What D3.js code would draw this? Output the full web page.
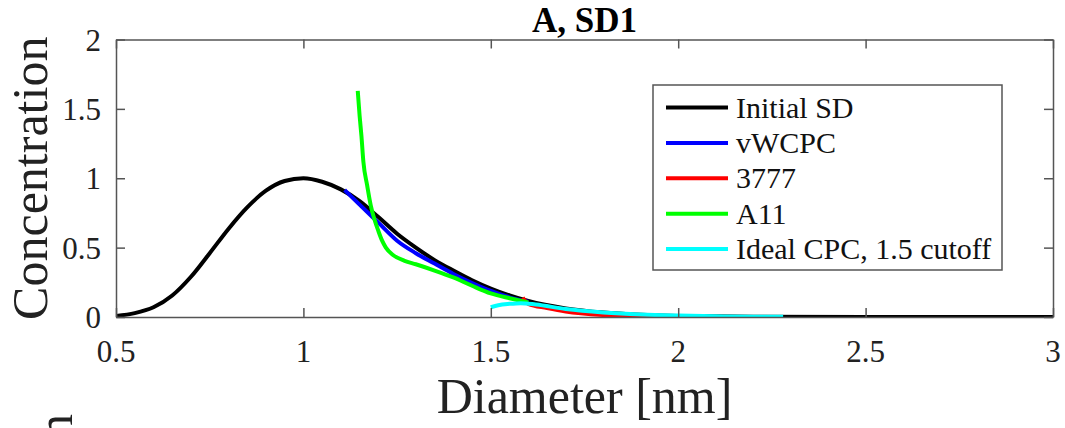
<!DOCTYPE html>
<html>
<head>
<meta charset="utf-8">
<script src="https://cdn.jsdelivr.net/npm/d3@7.9.0/dist/d3.min.js"></script>
<style>
  body { margin: 0; background: #fff; }
  svg text { font-family: "Liberation Serif", "Times New Roman", serif; fill: #222; }
</style>
</head>
<body>
<svg id="chart" width="1065" height="428"></svg>
<script>
// values
const initialD = [0.5, 0.55, 0.6, 0.65, 0.7, 0.75, 0.8, 0.85, 0.9, 0.95, 1.0, 1.05, 1.1, 1.15, 1.2, 1.25, 1.3, 1.35, 1.4, 1.45, 1.5, 1.55, 1.6, 1.7, 1.8, 1.9, 2.0, 2.2, 2.5, 3.0];
const initialC = [0.008, 0.028, 0.07, 0.155, 0.29, 0.46, 0.635, 0.79, 0.91, 0.98, 1.0, 0.975, 0.92, 0.835, 0.72, 0.6, 0.5, 0.41, 0.335, 0.265, 0.205, 0.155, 0.115, 0.062, 0.032, 0.016, 0.007, 0.002, 0, 0];

const vwcpcD = [1.11, 1.15, 1.2, 1.25, 1.3, 1.35, 1.4, 1.45, 1.5, 1.55, 1.6];
const vwcpcC = [0.915, 0.81, 0.68, 0.55, 0.46, 0.385, 0.31, 0.245, 0.188, 0.142, 0.11];

const d3777D = [1.585, 1.6, 1.65, 1.7, 1.8, 1.9, 2.0];
const d3777C = [0.14, 0.095, 0.065, 0.04, 0.014, 0.004, 0.0];

const a11D = [1.145, 1.15, 1.155, 1.16, 1.17, 1.18, 1.19, 1.2, 1.21, 1.22, 1.24, 1.27, 1.3, 1.35, 1.4, 1.45, 1.5, 1.55, 1.6];
const a11C = [1.63, 1.45, 1.3, 1.12, 0.95, 0.8, 0.7, 0.62, 0.55, 0.5, 0.445, 0.405, 0.38, 0.335, 0.285, 0.225, 0.17, 0.135, 0.105];

const idealD = [1.5, 1.52, 1.55, 1.58, 1.62, 1.7, 1.8, 1.9, 2.0, 2.1, 2.2, 2.28];
const idealC = [0.07, 0.085, 0.095, 0.1, 0.09, 0.058, 0.033, 0.018, 0.01, 0.005, 0.002, 0.001];

const seriesNames = ["Initial SD", "vWCPC", "3777", "A11", "Ideal CPC, 1.5 cutoff"];
const seriesColors = ["#000000", "#0000ff", "#ff0000", "#00ff00", "#00ffff"];

const xTicks = [0.5, 1, 1.5, 2, 2.5, 3];
const yTicks = [0, 0.5, 1, 1.5, 2];

const series = [
  [initialD, initialC],
  [vwcpcD, vwcpcC],
  [d3777D, d3777C],
  [a11D, a11C],
  [idealD, idealC],
].map(([xs, ys]) => xs.map((d, i) => ({ d: d, c: ys[i] })));

const plotLeft = 116, plotRight = 1053, plotTop = 39.5, plotBottom = 317;
const axisColor = "#555";
const lineW = 4;

const x = d3.scaleLinear().domain([0.5, 3]).range([plotLeft, plotRight]);
const y = d3.scaleLinear().domain([0, 2]).range([plotBottom, plotTop]);

const svg = d3.select("#chart");

svg.append("defs").append("clipPath").attr("id", "plotclip")
  .append("rect")
  .attr("x", plotLeft).attr("y", plotTop)
  .attr("width", plotRight - plotLeft).attr("height", plotBottom - plotTop);

// data lines, drawn in legend order so cyan ends up on top
const line = d3.line()
  .x((p) => x(p.d))
  .y((p) => y(p.c))
  .curve(d3.curveMonotoneX);

const plot = svg.append("g").attr("clip-path", "url(#plotclip)");
series.forEach((pts, i) => {
  plot.append("path")
    .attr("d", line(pts))
    .attr("fill", "none")
    .attr("stroke", seriesColors[i])
    .attr("stroke-width", lineW)
    .attr("stroke-linejoin", "round");
});

// box with inward ticks on all four sides
const tickLen = 9;
const xAxisB = d3.axisBottom(x).tickValues(xTicks).tickSizeInner(-tickLen).tickSizeOuter(0).tickFormat("");
const xAxisT = d3.axisTop(x).tickValues(xTicks).tickSizeInner(-tickLen).tickSizeOuter(0).tickFormat("");
const yAxisL = d3.axisLeft(y).tickValues(yTicks).tickSizeInner(-tickLen).tickSizeOuter(0).tickFormat("");
const yAxisR = d3.axisRight(y).tickValues(yTicks).tickSizeInner(-tickLen).tickSizeOuter(0).tickFormat("");

[
  [xAxisB, `translate(0,${plotBottom})`],
  [xAxisT, `translate(0,${plotTop})`],
  [yAxisL, `translate(${plotLeft},0)`],
  [yAxisR, `translate(${plotRight},0)`],
].forEach(([ax, tr]) => {
  const g = svg.append("g").attr("transform", tr).call(ax);
  g.selectAll("path, line").attr("stroke", axisColor).attr("stroke-width", 1.5);
});

// tick labels
svg.append("g").selectAll("text")
  .data(xTicks)
  .join("text")
  .attr("x", (d) => x(d))
  .attr("y", 362)
  .attr("text-anchor", "middle")
  .attr("font-size", 31)
  .text((d) => d);

svg.append("g").selectAll("text")
  .data(yTicks)
  .join("text")
  .attr("x", 101)
  .attr("y", (d) => y(d) + 11)
  .attr("text-anchor", "end")
  .attr("font-size", 31)
  .text((d) => d);

// title and axis labels
svg.append("text")
  .attr("x", (plotLeft + plotRight) / 2)
  .attr("y", 32)
  .attr("text-anchor", "middle")
  .attr("font-size", 35)
  .attr("font-weight", "bold")
  .style("fill", "#000")
  .text("A, SD1");

svg.append("text")
  .attr("x", (plotLeft + plotRight) / 2)
  .attr("y", 413)
  .attr("text-anchor", "middle")
  .attr("font-size", 50)
  .text("Diameter [nm]");

svg.append("text")
  .attr("transform", `translate(47,${(plotTop + plotBottom) / 2}) rotate(-90)`)
  .attr("text-anchor", "middle")
  .attr("font-size", 50)
  .text("Concentration");

// y label of the next panel, cut off at the bottom edge
svg.append("text")
  .attr("transform", "translate(72,414) rotate(-90)")
  .attr("text-anchor", "end")
  .attr("font-size", 50)
  .text("Concentration");

// legend
const legend = svg.append("g");
legend.append("rect")
  .attr("x", 653).attr("y", 85)
  .attr("width", 349).attr("height", 185)
  .attr("fill", "#fff")
  .attr("stroke", axisColor)
  .attr("stroke-width", 1.5);

seriesNames.forEach((name, i) => {
  const ry = 107.5 + i * 35.4;
  legend.append("line")
    .attr("x1", 666).attr("x2", 728)
    .attr("y1", ry).attr("y2", ry)
    .attr("stroke", seriesColors[i])
    .attr("stroke-width", lineW);
  legend.append("text")
    .attr("x", 736)
    .attr("y", ry + 10)
    .attr("font-size", 30)
    .style("fill", "#111")
    .text(name);
});
</script>
</body>
</html>
